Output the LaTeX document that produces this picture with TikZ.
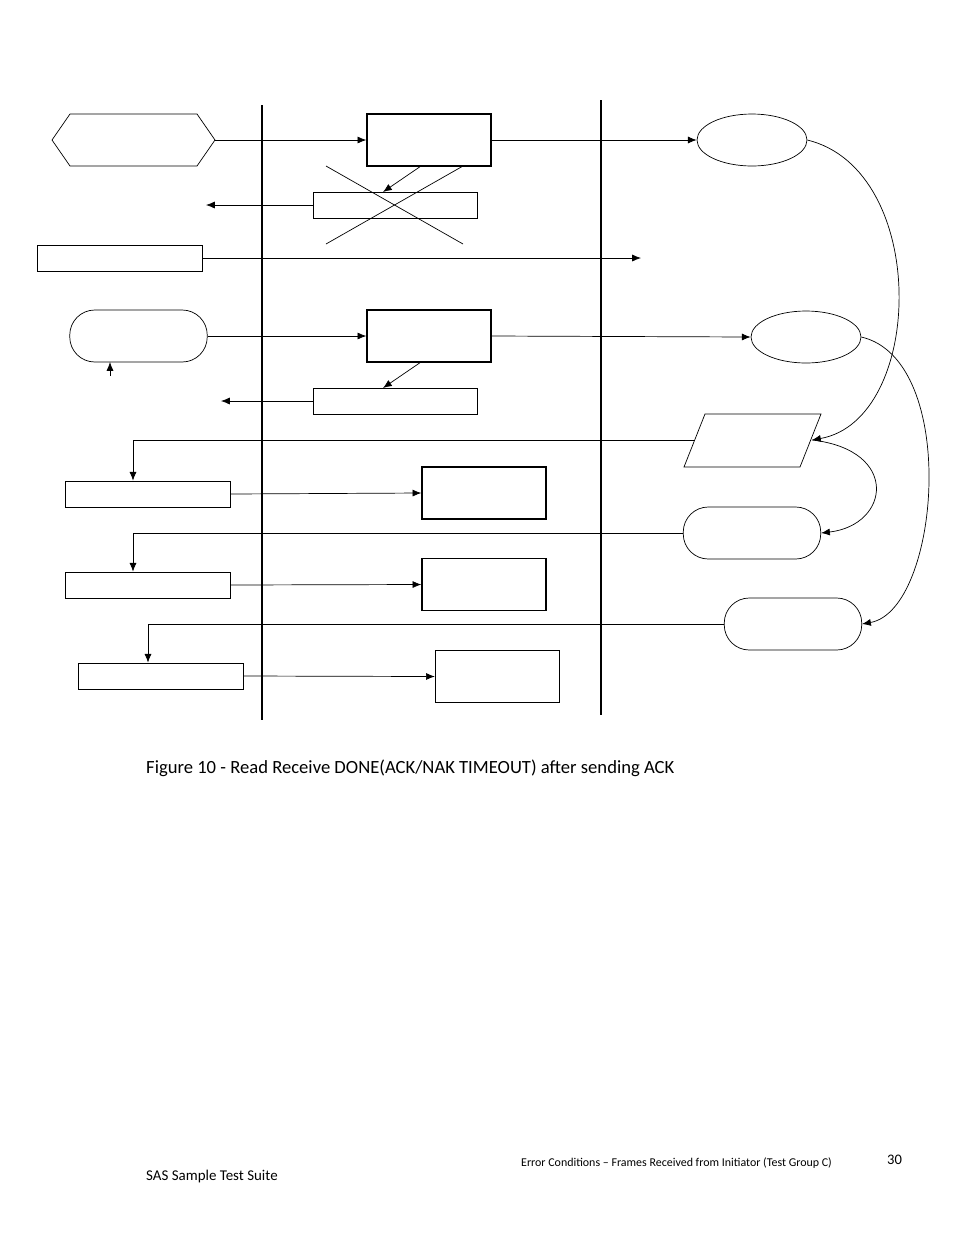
\documentclass[tikz,border=0pt]{standalone}
\usepackage{fontspec}
\setmainfont{Carlito}
\usetikzlibrary{arrows.meta,shapes.geometric}
\tikzset{
  box/.style={draw,thick,inner sep=0pt,minimum width=2.48cm,minimum height=1.04cm},
  bar/.style={draw,inner sep=0pt,minimum width=3.3cm,minimum height=0.52cm},
  rbox/.style={draw,rounded corners=0.5cm,inner sep=0pt,minimum width=2.75cm,minimum height=1.04cm},
  oval/.style={draw,ellipse,inner sep=0pt,minimum width=2.2cm,minimum height=1.04cm},
  arr/.style={-{Latex[length=5pt,width=4pt]}},
}
\begin{document}
\begin{tikzpicture}[x=0.02cm,y=-0.02cm]
  \useasboundingbox (0,0) rectangle (954,1235);
  % lanes
  \draw [line width=1.5pt] (262,105) -- (262,720);
  \draw [line width=1.5pt] (601,100) -- (601,715);
  % row 1
  \draw (52,140) -- (70,114) -- (197,114) -- (215,140) -- (197,166) -- (70,166) -- cycle;
  \coordinate (hex) at (215,140);
  \node [box] (b1) at (429,140) {};
  \node [oval] (e1) at (752,140) {};
  \draw [arr] (hex) -- (b1.west);
  \draw [arr] (b1.east) -- (e1.west);
  \node [bar,minimum width=3.28cm] (b2) at (395,205) {};
  \draw [arr] ([xshift=-0.18cm]b1.south) -- (383,192);
  \draw (326,166) -- (463,244);
  \draw (463,166) -- (326,244);
  \coordinate (l2) at (206,205);
  \draw [arr] (b2.west) -- (l2);
  \node [bar] (b3) at (119.5,258) {};
  \coordinate (r3) at (641,258);
  \draw [arr] (b3.east) -- (r3);
  % row 2
  \node [rbox] (s1) at (138.5,336) {};
  \coordinate (up) at (110,376);
  \draw [arr] (up) -- (110,362);
  \node [box] (b4) at (429,336) {};
  \node [oval] (e2) at (806,337) {};
  \draw [arr] (s1.east) -- (b4.west);
  \draw [arr] (b4.east) -- (e2.west);
  \node [bar,minimum width=3.28cm] (b5) at (395,401) {};
  \draw [arr] ([xshift=-0.18cm]b4.south) -- (383,388);
  \coordinate (l5) at (221,401);
  \draw [arr] (b5.west) -- (l5);
  % outcomes
  \draw (684,467) -- (705,414) -- (821,414) -- (800,467) -- cycle;
  \coordinate (pl) at (694,440);
  \coordinate (pr) at (812,440);
  \node [rbox] (s2) at (752,533) {};
  \node [rbox] (s3) at (793,624) {};
  \node [bar] (b6) at (147.5,494) {};
  \node [box] (b7) at (484,493) {};
  \node [bar] (b8) at (147.5,585) {};
  \node [box] (b9) at (484,584.5) {};
  \node [bar] (b10) at (160.5,676) {};
  \node [box] (b11) at (497.5,676.5) {};
  \draw [arr] (pl) -| (b6.north -| 133,0);
  \draw [arr] (s2.west) -| (b8.north -| 133,0);
  \draw [arr] (s3.west) -| (b10.north -| 148,0);
  \draw [arr] (b6.east) -- (b7.west);
  \draw [arr] (b8.east) -- (b9.west);
  \draw [arr] (b10.east) -- (b11.west);
  % loops
  \draw [arr] (e1.east) .. controls (930,170) and (925,420) .. (pr);
  \draw [arr] (e2.east) .. controls (960,360) and (940,610) .. (s3.east);
  \draw [arr] (pr) .. controls (900,450) and (890,525) .. (s2.east);
  % texts
  \node [anchor=base west,font=\fontsize{10.6}{13}\selectfont] (cap) at (140,773)
    {Figure 10 - Read Receive DONE(ACK/NAK TIMEOUT) after sending ACK};
  \node [anchor=base west,font=\fontsize{6.8}{9}\selectfont] (ft1) at (515,1166)
    {Error Conditions -- Frames Received from Initiator (Test Group C)};
  \node [anchor=base west,font=\fontsize{8.3}{10}\selectfont] (pg) at (881,1164) {30};
  \node [anchor=base west,font=\fontsize{8.5}{10}\selectfont] (ft2) at (140,1180) {SAS Sample Test Suite};
\end{tikzpicture}
\end{document}
